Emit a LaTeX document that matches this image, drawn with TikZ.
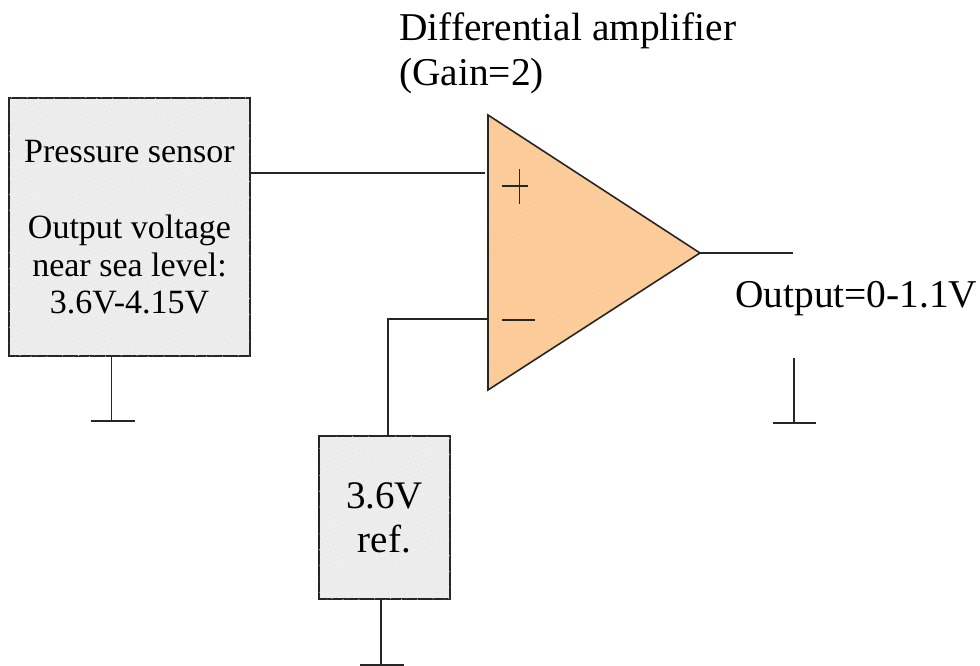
\documentclass[tikz,border=0pt]{standalone}
\usepackage{fontspec}
\setmainfont{Liberation Serif}
\usetikzlibrary{patterns.meta}
\definecolor{ampfill}{RGB}{253,203,152}
\definecolor{ampdots}{RGB}{238,222,200}
\tikzset{
  x=1pt,y=-1pt,
  wire/.style={draw=black!85,line width=1.6pt},
  thin wire/.style={draw=black!85,line width=1.6pt},
  stipple/.style={pattern={Dots[distance=5pt,radius=0.55pt,angle=20]},pattern color=#1},
  panel/.style={draw=black!85,line width=1.9pt,fill=black!7,inner sep=0pt,align=center,
    postaction={stipple=black!12}},
  biglabel/.style={font=\fontsize{39.4}{44.5}\selectfont,inner sep=0pt,align=left},
  boxlabel/.style={font=\fontsize{34}{37.5}\selectfont},
}
\begin{document}
\begin{tikzpicture}
\useasboundingbox (0,0) rectangle (980,666);
% sensor box
\node[panel,boxlabel,minimum width=241pt,minimum height=258pt] (sensor) at (129.5,227)
  {Pressure sensor\\[39pt]Output voltage\\near sea level:\\3.6V-4.15V};
% reference box
\node[panel,font=\fontsize{39}{44}\selectfont,minimum width=131pt,minimum height=163pt] (ref) at (384.5,517.5)
  {3.6V\\ref.};
% amplifier
\coordinate (ampA) at (488,115);
\coordinate (ampB) at (488,390);
\coordinate (ampC) at (700,253);
\path[fill=ampfill] (ampA) -- (ampB) -- (ampC) -- cycle;
\path[stipple=ampdots] (ampA) -- (ampB) -- (ampC) -- cycle;
\draw[wire,line join=miter] (ampA) -- (ampB) -- (ampC) -- cycle;
% polarity marks
\coordinate (plusL) at (502,186); \coordinate (plusR) at (528,186);
\coordinate (plusT) at (519.5,169); \coordinate (plusB) at (519.5,204);
\draw[thin wire] (plusL) -- (plusR) (plusT) -- (plusB);
\coordinate (minusL) at (502,320); \coordinate (minusR) at (535,320);
\draw[thin wire] (minusL) -- (minusR);
% connectors
\coordinate (inP) at (485,173);
\coordinate (inM) at (488,319);
\coordinate (outEnd) at (793,253);
\draw[wire] (sensor.east |- inP) -- (inP);
\draw[wire] (ampC) -- (outEnd);
\coordinate (refTop) at (388,436);
\draw[wire] (refTop) -- (refTop |- inM) -- (inM);
% grounds
\coordinate (g1t) at (111.5,356); \coordinate (g1) at (111.5,421);
\draw[wire] (g1t) -- (g1);
\coordinate (g1L) at (91,421); \coordinate (g1R) at (135,421);
\draw[wire] (g1L) -- (g1R);
\coordinate (g2t) at (381,599); \coordinate (g2) at (381,665);
\draw[wire] (g2t) -- (g2);
\coordinate (g2L) at (360,665); \coordinate (g2R) at (404,665);
\draw[wire] (g2L) -- (g2R);
\coordinate (g3t) at (794,358); \coordinate (g3) at (794,423);
\draw[wire] (g3t) -- (g3);
\coordinate (g3L) at (773,423); \coordinate (g3R) at (816,423);
\draw[wire] (g3L) -- (g3R);
% labels
\node[biglabel,anchor=north west] (title) at (399,13) {Differential amplifier\\(Gain=2)};
\node[biglabel,anchor=west] (out) at (735,299) {Output=0-1.1V};
\end{tikzpicture}
\end{document}
